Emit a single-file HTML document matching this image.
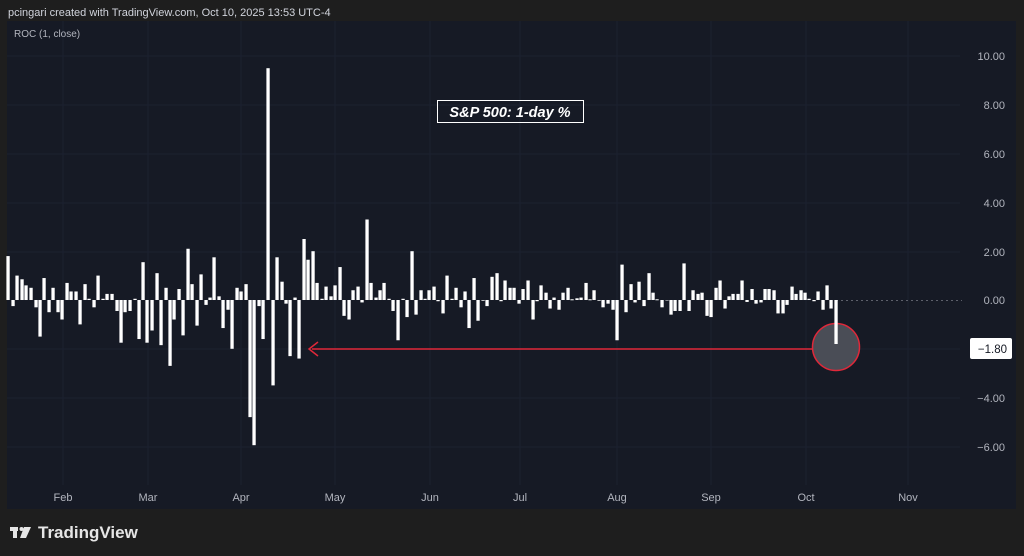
<!DOCTYPE html>
<html><head><meta charset="utf-8"><style>
html,body{margin:0;padding:0;background:#1e1e1e;width:1024px;height:556px;overflow:hidden;font-family:"Liberation Sans",sans-serif}
</style></head><body>
<svg id="s" width="1024" height="556" xmlns="http://www.w3.org/2000/svg" style="position:absolute;left:0;top:0">
<rect x="0" y="0" width="1024" height="556" fill="#1e1e1e"/>
<text x="8" y="16" font-size="11" fill="#d1d4dc" font-family="Liberation Sans, sans-serif">pcingari created with TradingView.com, Oct 10, 2025 13:53 UTC-4</text>
<rect x="7" y="21" width="1009" height="488" fill="#161a25"/>
<g stroke="#1c2130" stroke-width="1">
<line x1="7" y1="56" x2="960" y2="56"/><line x1="7" y1="105" x2="960" y2="105"/><line x1="7" y1="154" x2="960" y2="154"/><line x1="7" y1="203" x2="960" y2="203"/><line x1="7" y1="252" x2="960" y2="252"/><line x1="7" y1="349" x2="960" y2="349"/><line x1="7" y1="398" x2="960" y2="398"/><line x1="7" y1="447" x2="960" y2="447"/>
<line x1="63" y1="21" x2="63" y2="485"/><line x1="148" y1="21" x2="148" y2="485"/><line x1="241" y1="21" x2="241" y2="485"/><line x1="335" y1="21" x2="335" y2="485"/><line x1="430" y1="21" x2="430" y2="485"/><line x1="520" y1="21" x2="520" y2="485"/><line x1="617" y1="21" x2="617" y2="485"/><line x1="711" y1="21" x2="711" y2="485"/><line x1="806" y1="21" x2="806" y2="485"/><line x1="908" y1="21" x2="908" y2="485"/>
</g>
<text x="14" y="37" font-size="10" fill="#b2b5be">ROC (1, close)</text>
<line x1="836" y1="300.5" x2="962" y2="300.5" stroke="#5d606b" stroke-dasharray="2,3"/>
<g font-size="11" fill="#b2b5be" text-anchor="end">
<text x="1005" y="60">10.00</text><text x="1005" y="109">8.00</text><text x="1005" y="158">6.00</text><text x="1005" y="207">4.00</text><text x="1005" y="256">2.00</text><text x="1005" y="304">0.00</text><text x="1005" y="402">−4.00</text><text x="1005" y="451">−6.00</text>
</g>
<g font-size="11" fill="#b2b5be" text-anchor="middle">
<text x="63" y="501">Feb</text><text x="148" y="501">Mar</text><text x="241" y="501">Apr</text><text x="335" y="501">May</text><text x="430" y="501">Jun</text><text x="520" y="501">Jul</text><text x="617" y="501">Aug</text><text x="711" y="501">Sep</text><text x="806" y="501">Oct</text><text x="908" y="501">Nov</text>
</g>
<g id="bars" fill="#ffffff"></g>
<line x1="312" y1="349" x2="812" y2="349" stroke="#e0283a" stroke-width="1.5"/>
<polyline points="318,342 309,349 318,356" fill="none" stroke="#e0283a" stroke-width="1.5"/>
<circle cx="836" cy="347" r="23.5" fill="#4a4d56" stroke="#e0283a" stroke-width="1.5"/>
<rect id="last" x="834.4" y="300" width="3.3" height="44" fill="#ffffff"/>
<rect x="970" y="338" width="42" height="21" rx="2" fill="#ffffff"/>
<text x="1007" y="353" font-size="11.5" fill="#131722" text-anchor="end">−1.80</text>
<rect x="437.5" y="100.5" width="146" height="22" fill="none" stroke="#ffffff" stroke-width="1"/>
<text x="510" y="117" font-size="14.5" font-weight="bold" font-style="italic" fill="#ffffff" text-anchor="middle">S&amp;P 500: 1-day %</text>
<rect x="1016" y="21" width="8" height="488" fill="#1e1e1e"/>
<g fill="#e6e6e6">
<rect x="10" y="527" width="8" height="4"/><rect x="13" y="527" width="4" height="11"/>
<circle cx="21.5" cy="529" r="2"/>
<polygon points="24,527 31,527 26,538 20,538"/>
</g>
<text x="38" y="538" font-size="17" fill="#e6e6e6" font-weight="bold">TradingView</text>
</svg>
<script>
var d=[[8,1.8],[13,-0.25],[17,1.0],[22,0.85],[26,0.6],[31,0.5],[36,-0.3],[40,-1.5],[44,0.9],[49,-0.5],[53,0.5],[58,-0.5],[62,-0.8],[67,0.7],[71,0.35],[76,0.35],[80,-1.0],[85,0.65],[89,0.05],[94,-0.3],[98,1.0],[103,0.05],[107,0.25],[112,0.25],[117,-0.45],[121,-1.75],[125,-0.5],[130,-0.45],[135,0.05],[139,-1.6],[143,1.55],[147,-1.75],[152,-1.25],[157,1.1],[161,-1.85],[166,0.5],[170,-2.7],[174,-0.8],[179,0.45],[183,-1.45],[188,2.1],[192,0.65],[197,-1.05],[201,1.05],[206,-0.2],[210,0.1],[214,1.75],[219,0.15],[223,-1.15],[228,-0.4],[232,-2.0],[237,0.5],[241,0.35],[246,0.65],[250,-4.8],[254,-5.95],[259,-0.25],[263,-1.6],[268,9.5],[273,-3.5],[277,1.75],[282,0.75],[286,-0.15],[290,-2.3],[295,0.1],[299,-2.4],[304,2.5],[308,1.65],[313,2.0],[317,0.7],[322,0.05],[326,0.55],[331,0.15],[335,0.6],[340,1.35],[344,-0.65],[349,-0.8],[353,0.4],[358,0.55],[362,-0.1],[367,3.3],[371,0.7],[376,0.1],[380,0.4],[384,0.7],[389,0.05],[393,-0.45],[398,-1.65],[403,0.05],[407,-0.7],[412,2.0],[416,-0.6],[421,0.4],[425,0.05],[429,0.4],[434,0.55],[438,-0.05],[443,-0.55],[447,1.0],[452,0.05],[456,0.5],[461,-0.3],[465,0.35],[469,-1.15],[474,0.9],[478,-0.85],[483,-0.03],[487,-0.25],[492,0.95],[497,1.1],[501,-0.05],[505,0.8],[510,0.5],[514,0.5],[519,-0.15],[523,0.45],[528,0.8],[533,-0.8],[537,-0.05],[541,0.6],[546,0.3],[550,-0.35],[554,0.1],[559,-0.4],[563,0.3],[568,0.5],[572,0.03],[577,0.07],[581,0.1],[586,0.7],[590,0.03],[594,0.4],[599,-0.03],[603,-0.3],[608,-0.15],[613,-0.4],[617,-1.65],[622,1.45],[626,-0.5],[631,0.65],[635,-0.1],[639,0.75],[644,-0.25],[649,1.1],[653,0.3],[657,0.03],[662,-0.3],[667,-0.02],[671,-0.6],[675,-0.45],[680,-0.45],[684,1.5],[689,-0.45],[693,0.4],[698,0.25],[702,0.3],[707,-0.65],[711,-0.7],[716,0.5],[720,0.8],[725,-0.35],[729,0.15],[733,0.25],[738,0.25],[742,0.8],[747,-0.08],[752,0.45],[756,-0.15],[761,-0.1],[765,0.45],[769,0.45],[774,0.4],[778,-0.55],[783,-0.55],[787,-0.2],[792,0.55],[796,0.25],[801,0.4],[805,0.3],[809,0.05],[814,-0.05],[818,0.35],[823,-0.4],[827,0.6],[831,-0.35]];
var g=document.getElementById('bars'),ns='http://www.w3.org/2000/svg';
d.forEach(function(p){var h=p[1]*24.4,r=document.createElementNS(ns,'rect');
r.setAttribute('x',p[0]-1.6);r.setAttribute('width',3.3);
if(h>=0){r.setAttribute('y',300-h);r.setAttribute('height',Math.max(h,1));}
else{r.setAttribute('y',300);r.setAttribute('height',-h);}
g.appendChild(r);});
</script>
</body></html>
